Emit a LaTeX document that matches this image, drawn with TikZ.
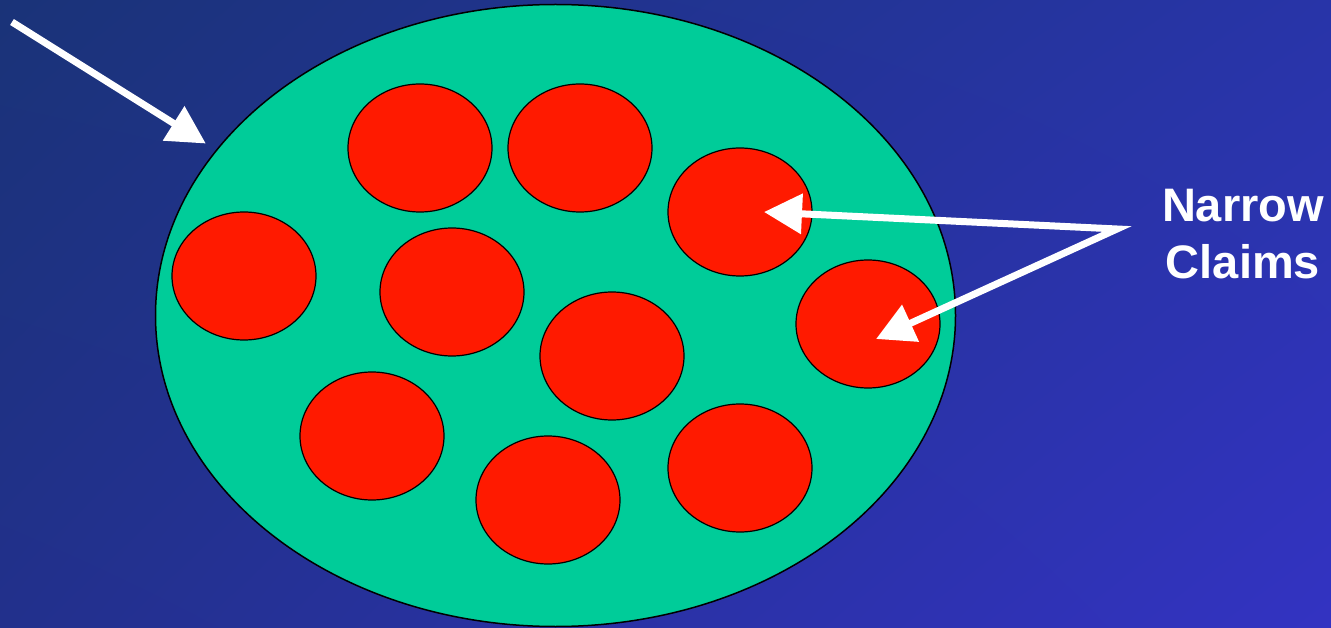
\documentclass[tikz,border=0pt]{standalone}
\usepackage{fontspec}
\setmainfont{Liberation Sans}
\usepackage{tikz}
\usetikzlibrary{arrows.meta,calc,shapes.geometric,shadings}
\definecolor{bgtl}{RGB}{26,51,120}
\definecolor{bgtr}{RGB}{40,52,168}
\definecolor{bgbl}{RGB}{34,48,140}
\definecolor{bgbr}{RGB}{51,51,194}
\definecolor{field}{RGB}{0,204,153}
\definecolor{claim}{RGB}{255,26,0}
\tikzset{head/.tip={Triangle[length=38pt,width=39pt]},
         broad/.style={ellipse,draw=black,fill=field,line width=1.5pt,
           minimum width=800pt,minimum height=622pt,inner sep=0pt},
         narrow/.style={ellipse,draw=black,fill=claim,line width=1.2pt,
           minimum width=144pt,minimum height=128pt,inner sep=0pt},
         pointer/.style={draw=white,line width=7pt,line join=miter},
         label/.style={text=white,font=\bfseries\fontsize{47}{57}\selectfont,align=center}}

\begin{document}
\begin{tikzpicture}[x=1pt,y=-1pt]
  % one broad claim holding ten narrow ones
  \useasboundingbox (0,0) rectangle (1331,628);
  \shade[upper left=bgtl,upper right=bgtr,lower left=bgbl,lower right=bgbr]
    (0,0) rectangle (1331,628);
  \node[broad] (big) at (555.5,315.5) {};
  \node[narrow] (c1) at (420,148) {};
  \node[narrow] (c2) at (580,148) {};
  \node[narrow] (c3) at (740,212) {};
  \node[narrow] (c4) at (244,276) {};
  \node[narrow] (c5) at (452,292) {};
  \node[narrow] (c6) at (868,324) {};
  \node[narrow] (c7) at (612,356) {};
  \node[narrow] (c8) at (372,436) {};
  \node[narrow] (c9) at (548,500) {};
  \node[narrow] (c10) at (740,468) {};
  \node[label] (claims) at (1243,234) {Narrow\\Claims};
  \coordinate (start) at (12,22);
  \coordinate (fork) at (1117,229);
  \draw[pointer,-head,shorten >=12pt] (start) -- (big.154.5);
  \draw[pointer,head-head] ($(c3)+(24,0)$) -- (fork) -- ($(c6)+(8,15)$);
\end{tikzpicture}
\end{document}
